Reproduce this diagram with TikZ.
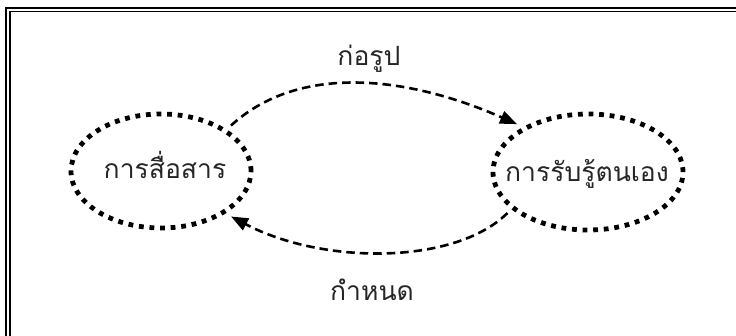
\documentclass[tikz,border=0pt]{standalone}
\usepackage{fontspec}
\newfontfamily\thaifont[Script=Thai]{Loma}
\usetikzlibrary{arrows.meta,shapes.geometric}
\definecolor{ink}{HTML}{262626}
\begin{document}
\begin{tikzpicture}[x=1pt,y=-1pt,
  blob/.style={ellipse,draw=black,line width=4.8pt,dash pattern=on 4.8pt off 5.8pt,inner sep=0pt,outer sep=8pt},
  txt/.style={font=\thaifont\fontsize{26.5}{30}\selectfont,text=ink,inner sep=0pt,anchor=base},
  flow/.style={draw=black,line width=2.6pt,dash pattern=on 8.5pt off 5pt,-{Triangle[length=17pt,width=13pt]}},
  frame/.style={draw=black,line width=1.5pt}]
\clip (0,0) rectangle (736,335);
\path[frame] (6,7.8) rectangle (760,360);
\path[frame] (10,11.6) rectangle (760,360);
\node[blob,minimum width=180pt,minimum height=114pt] (L) at (161,171) {};
\node[blob,minimum width=190pt,minimum height=116pt] (R) at (588,172) {};
\node[txt] (Lt) at (165,178) {การสื่อสาร};
\node[txt] (Rt) at (587,181) {การรับรู้ตนเอง};
\node[txt] (top) at (369,65) {ก่อรูป};
\node[txt] (bot) at (372,300) {กำหนด};
\draw[flow] (L.33) .. controls (297,65) and (403,74) .. (R.146);
\draw[flow] (R.207) .. controls (455,265) and (323,265) .. (L.-33);
\end{tikzpicture}
\end{document}
